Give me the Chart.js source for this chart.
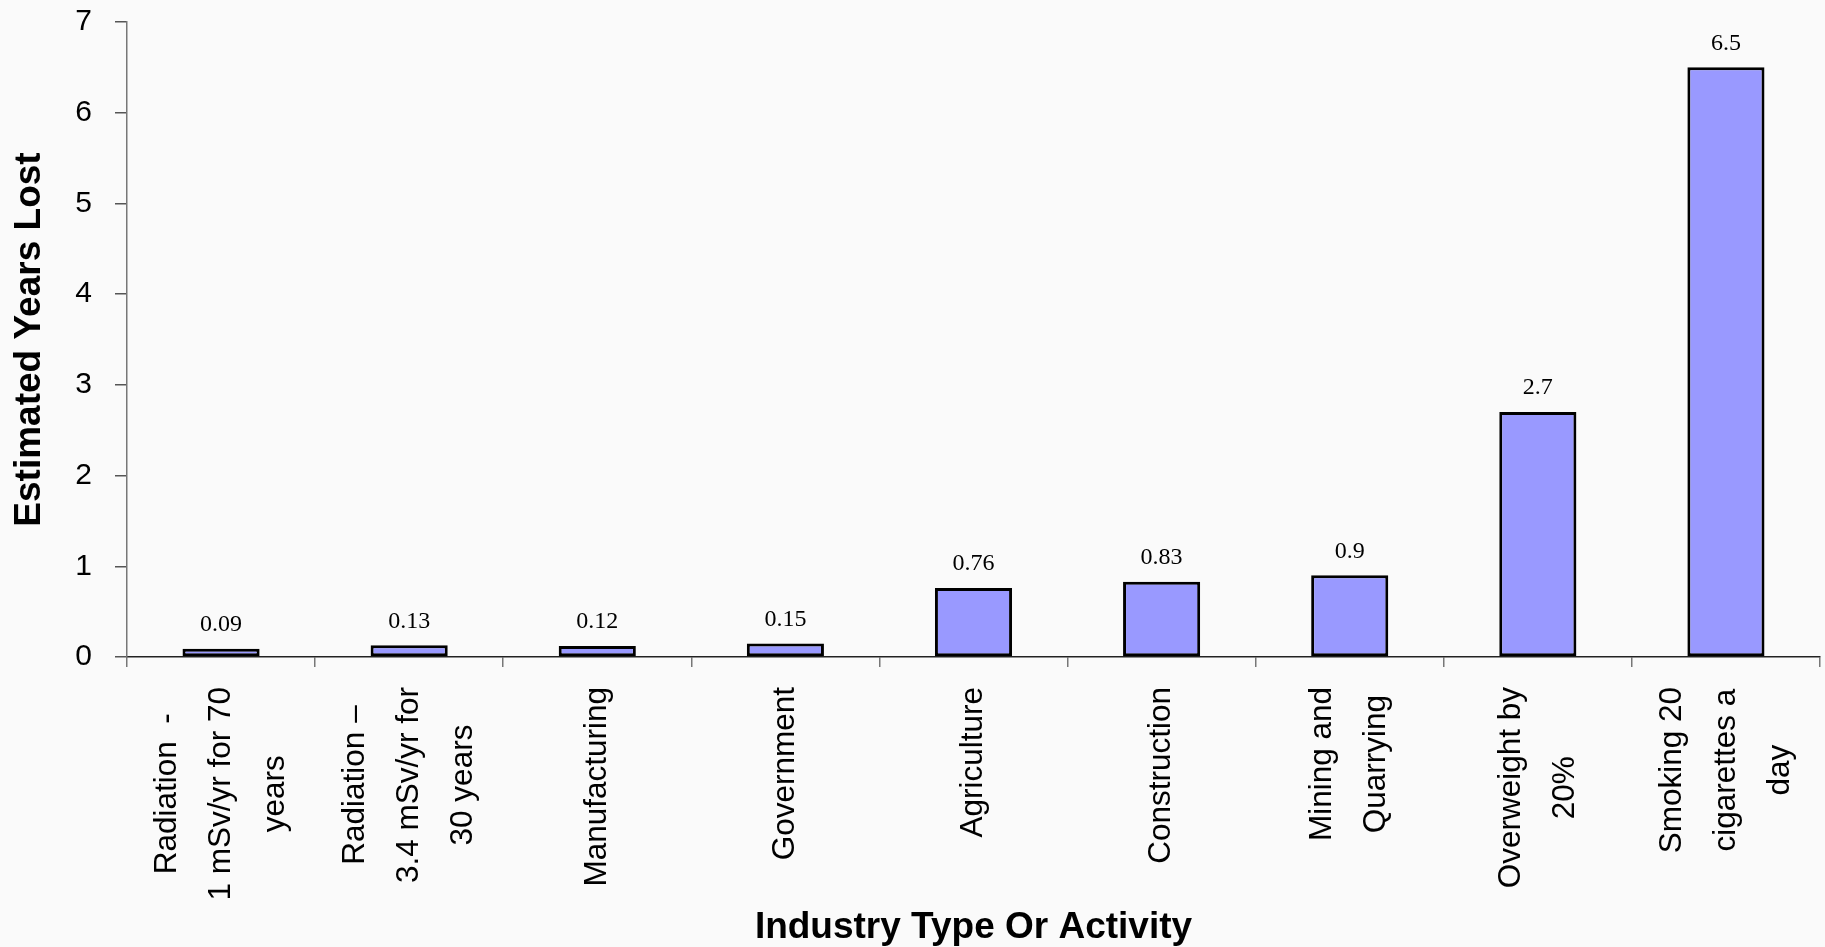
<!DOCTYPE html>
<html>
<head>
<meta charset="utf-8">
<script src="https://cdn.jsdelivr.net/npm/chart.js@4.4.1/dist/chart.umd.min.js"></script>
<style>
  html, body { margin: 0; padding: 0; background: #fafafa; }
  #wrap { width: 1825px; height: 947px; position: relative; }
</style>
</head>
<body>
<div id="wrap"><canvas id="chart"></canvas></div>
<script>
// Category names (one entry per bar, each split into its wrapped lines)
const categories = [
  ["Radiation  -", "1 mSv/yr for 70", "years"],
  ["Radiation \u2013", "3.4 mSv/yr for", "30 years"],
  ["Manufacturing"],
  ["Government"],
  ["Agriculture"],
  ["Construction"],
  ["Mining and", "Quarrying"],
  ["Overweight by", "20%"],
  ["Smoking 20", "cigarettes a", "day"]
];

// Estimated years of life lost for each category
const yearsLost = [0.09, 0.13, 0.12, 0.15, 0.76, 0.83, 0.9, 2.7, 6.5];

// Value-axis tick values
const yTicks = [0, 1, 2, 3, 4, 5, 6, 7];

const SANS = '"Liberation Sans", Arial, Helvetica, sans-serif';
const SERIF = '"Liberation Serif", "Times New Roman", serif';

// Writes each bar's value above it
const valueLabels = {
  id: 'valueLabels',
  afterDatasetsDraw(chart) {
    const ctx = chart.ctx;
    const meta = chart.getDatasetMeta(0);
    const values = chart.data.datasets[0].data;
    ctx.save();
    ctx.font = '24px ' + SERIF;
    ctx.fillStyle = '#000';
    ctx.textAlign = 'center';
    ctx.textBaseline = 'middle';
    meta.data.forEach((bar, i) => {
      ctx.fillText(String(values[i]), bar.x, bar.y - 24);
    });
    ctx.restore();
  }
};

// Vertical, centred multi-line category names under the x axis
const categoryLabels = {
  id: 'categoryLabels',
  afterDraw(chart) {
    const xs = chart.scales.x;
    const ctx = chart.ctx;
    const lineH = 54;
    const top = xs.top + 30;
    ctx.save();
    ctx.font = '31.5px ' + SANS;
    ctx.fillStyle = '#000';
    ctx.textAlign = 'center';
    ctx.textBaseline = 'middle';
    chart.data.labels.forEach((lines, i) => {
      const x = xs.getPixelForValue(i);
      const maxW = Math.max(...lines.map(l => ctx.measureText(l).width));
      ctx.save();
      ctx.translate(x, top + maxW / 2);
      ctx.rotate(-Math.PI / 2);
      lines.forEach((l, j) => {
        ctx.fillText(l, 0, (j - (lines.length - 1) / 2) * lineH);
      });
      ctx.restore();
    });
    ctx.restore();
  }
};

new Chart(document.getElementById('chart'), {
  type: 'bar',
  data: {
    labels: categories,
    datasets: [{
      data: yearsLost,
      backgroundColor: '#9999ff',
      borderColor: '#000000',
      borderWidth: 3,
      borderSkipped: false,
      barPercentage: 0.41,
      categoryPercentage: 1
    }]
  },
  options: {
    responsive: true,
    maintainAspectRatio: false,
    animation: false,
    events: [],
    layout: { padding: { top: 22, right: 5, bottom: 0, left: 0 } },
    plugins: {
      legend: { display: false },
      tooltip: { enabled: false }
    },
    scales: {
      x: {
        grid: {
          offset: true,
          drawOnChartArea: false,
          drawTicks: true,
          tickLength: 10,
          color: '#777777',
          lineWidth: 1.5
        },
        border: { display: true, color: '#222222', width: 1.5 },
        ticks: { display: false },
        title: {
          display: true,
          text: 'Industry Type Or Activity',
          color: '#000',
          font: { family: SANS, size: 37, weight: 'bold', lineHeight: 1 },
          padding: { top: 0, bottom: 1 }
        },
        afterFit(scale) { scale.height = 290; }
      },
      y: {
        min: yTicks[0],
        max: yTicks[yTicks.length - 1],
        afterBuildTicks(scale) { scale.ticks = yTicks.map(v => ({ value: v })); },
        grid: {
          drawOnChartArea: false,
          drawTicks: true,
          tickLength: 12,
          color: '#555555',
          lineWidth: 1.5
        },
        border: { display: true, color: '#777777', width: 1.5 },
        ticks: {
          color: '#000',
          padding: 23,
          font: { family: SANS, size: 30 }
        },
        title: {
          display: true,
          text: 'Estimated Years Lost',
          color: '#000',
          font: { family: SANS, size: 37, weight: 'bold', lineHeight: 1 },
          padding: { top: 11.5, bottom: 0 }
        },
        afterFit(scale) {
          scale.width = 127;
          scale.paddingTop = 0;
          scale.paddingBottom = 0;
        }
      }
    }
  },
  plugins: [valueLabels, categoryLabels]
});
</script>
</body>
</html>
